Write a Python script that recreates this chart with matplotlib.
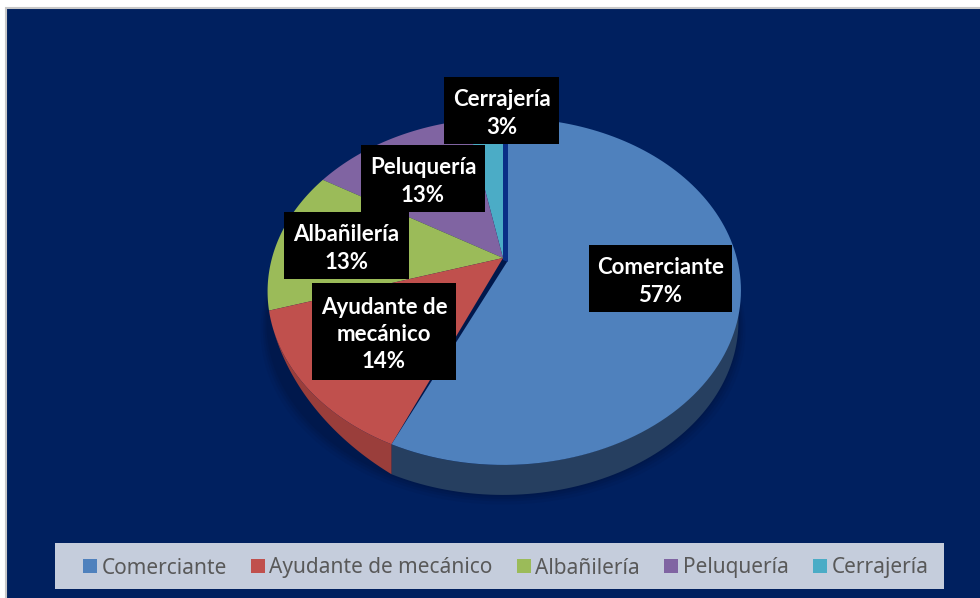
import numpy as np
import matplotlib
matplotlib.use('Agg')
import matplotlib.pyplot as plt
from matplotlib.patches import Patch, Rectangle

# Data
categories = ['Comerciante', 'Ayudante de mecánico', 'Albañilería', 'Peluquería', 'Cerrajería']
values = [56.5, 13.7, 13.4, 13.4, 3.0]  # slice sizes
colors = ['#4F81BD', '#C0504D', '#9BBB59', '#8064A2', '#4BACC6']
wall_colors = ['#263F60', '#9A3E3B', '#6F8A3F', '#5C4877', '#367F93']
box_labels = ['Comerciante\n57%', 'Ayudante de\nmecánico\n14%', 'Albañilería\n13%', 'Peluquería\n13%', 'Cerrajería\n3%']
# label boxes in pixels: x0, y0, x1, y1
boxes = [(589, 245, 732, 312), (312, 283, 456, 380), (284, 212, 409, 279), (361, 145, 485, 212), (444, 77, 559, 144)]

navy = '#00205F'
cx, cy = 503, 258   # apex of the pie
rx, ry = 231, 167   # radii before perspective
k = 0.193           # perspective strength
depth = 30          # wall height


def project(theta):
    """theta is clockwise from 12 o'clock, in radians"""
    up = np.cos(theta)
    d = 1 + k * up
    return cx + rx * np.sin(theta) / d, cy - ry * up / d


fig = plt.figure(figsize=(9.8, 5.98), dpi=100, facecolor='white')
ax = fig.add_axes([0, 0, 1, 1])
ax.set_xlim(0, 980)
ax.set_ylim(598, 0)
ax.axis('off')

# Background
ax.add_patch(Rectangle((6, 8), 980, 600, facecolor=navy, edgecolor='#C8C8C8', linewidth=1.5))

fractions = np.cumsum([0] + values) / sum(values) * 2 * np.pi

# Soft shadow under the pie
t = np.linspace(0, 2 * np.pi, 200)
sx, sy = project(t)
for grow, a in zip([12, 8, 5, 2], [0.08, 0.1, 0.12, 0.15]):
    ax.fill(cx + (sx - cx) * (1 + grow / 400), sy + depth + grow * 0.8, color='#001030', alpha=a, lw=0)

# Side walls (only the part facing the viewer)
wall_start = np.pi / 2 + np.arcsin(k)
wall_end = fractions[1] + 0.75
for i in range(len(values)):
    a0 = max(fractions[i], wall_start)
    a1 = min(fractions[i + 1], wall_end)
    if a1 <= a0:
        continue
    t = np.linspace(a0, a1, 80)
    x, y = project(t)
    # the wall thins out towards the left of the pie
    h = depth * np.clip((wall_end - t) / 0.75, 0, 1) ** 1.3
    ax.fill(np.r_[x, x[::-1]], np.r_[y, (y + h)[::-1]], color=wall_colors[i], lw=0)

# Top faces
for i in range(len(values) - 1, -1, -1):
    t = np.linspace(fractions[i], fractions[i + 1], 120)
    x, y = project(t)
    if i == 0:
        # the big slice sits a little apart from the others
        x = x + np.linspace(5, 0, len(x))
        ax.fill(np.r_[x, cx + 4], np.r_[y, cy + 4], color=colors[i], lw=0)
    else:
        ax.fill(np.r_[x, cx], np.r_[y, cy], color=colors[i], lw=0)

# Inner wall seen through the gap at 12 o'clock
x0, y0 = project(0.0)
ax.fill([cx, cx + 5, cx + 5, cx], [y0, y0, cy + 4, cy + 2], color='#0A2F86', lw=0)

# Data labels
for (x0, y0, x1, y1), label in zip(boxes, box_labels):
    ax.add_patch(Rectangle((x0, y0), x1 - x0, y1 - y0, facecolor='black', edgecolor='none', zorder=5))
    ax.text((x0 + x1) / 2, (y0 + y1) / 2 + 3, label, color='white', ha='center', va='center',
            fontsize=16, fontweight='bold', family='Lato', linespacing=1.37, zorder=6)

# Legend
ax.add_patch(Rectangle((55, 543), 889, 46, facecolor='#C5CDDC', edgecolor='none', zorder=5))
handles = [Patch(facecolor=c, edgecolor='none') for c in colors]
leg = ax.legend(handles, categories, ncol=5, loc='center',
                bbox_to_anchor=(505.5 / 980, 1 - 568 / 598),
                frameon=False, labelcolor='#595959',
                prop={'family': 'Noto Sans', 'size': 15},
                handlelength=0.68, handleheight=0.68, handletextpad=0.22,
                columnspacing=1.15, borderpad=0, borderaxespad=0)
leg.set_zorder(6)

fig.savefig('out.png', dpi=100, facecolor=fig.get_facecolor())
